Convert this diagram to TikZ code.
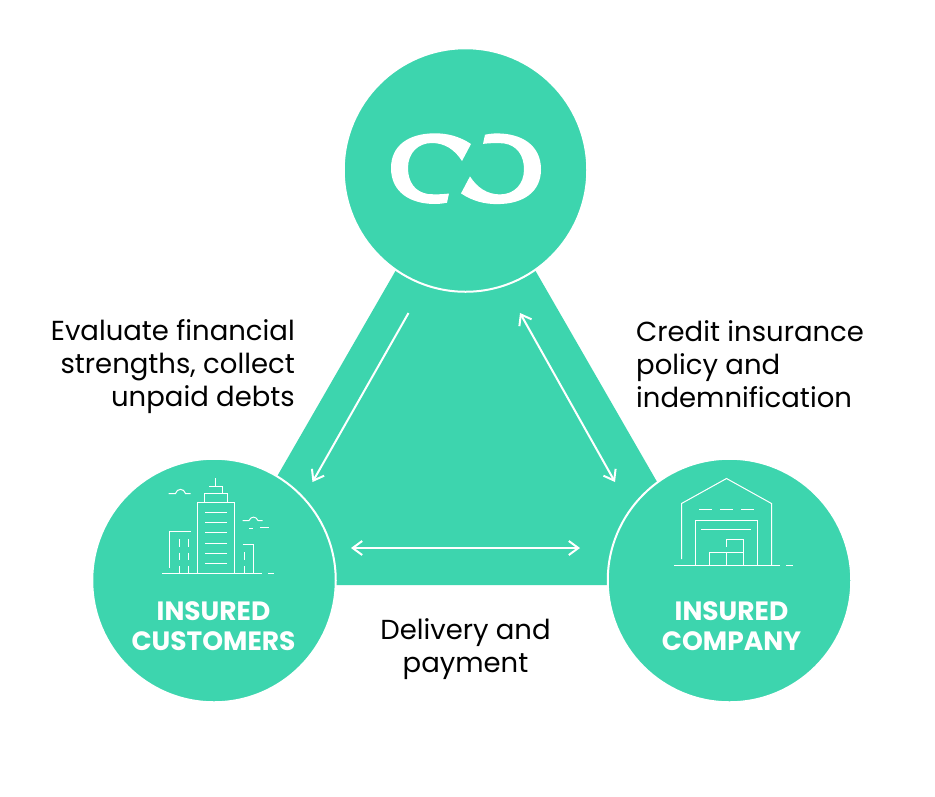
\documentclass[tikz,border=0pt]{standalone}
\usepackage{fontspec}
\setmainfont{Poppins}
\usetikzlibrary{arrows.meta}
\definecolor{tealbg}{HTML}{3DD5AE}
\tikzset{
  x=1pt,y=-1pt,
  disc/.style={circle,fill=tealbg,draw=white,line width=2pt,minimum size=243.5pt,inner sep=0pt},
  flow/.style={white,line width=2pt,-{Straight Barb[length=9.5pt,width=14pt,line width=2pt]}},
  flowboth/.style={white,line width=2pt,{Straight Barb[length=9.5pt,width=14pt,line width=2pt]}-{Straight Barb[length=9.5pt,width=14pt,line width=2pt]}},
  ico/.style={white,line width=1pt},
  captext/.style={font=\fontsize{26.5}{30}\selectfont\bfseries,text=white,align=center},
  say/.style={font=\fontsize{27.5}{33}\selectfont,text=black,inner sep=0pt},
}
\begin{document}
\begin{tikzpicture}
\useasboundingbox (0,0) rectangle (935,796);
\fill[white] (0,0) rectangle (935,796);
\fill[tealbg] (396,270) -- (535,270) -- (660,487) -- (610,585) -- (333,585) -- (275,480) -- cycle;
\node[disc] (top) at (465.5,170) {};
\node[disc] (left) at (214,580.5) {};
\node[disc] (right) at (729.5,580.5) {};
% logo
\def\cshape{(471,144) .. controls (459,136) and (447,133.3) .. (435,133.3)
 .. controls (408,133.3) and (391,146) .. (391,168)
 .. controls (391,192) and (410,204) .. (435,204)
 .. controls (439,204) and (443,203.5) .. (447,202.7) -- (449,193.5)
 .. controls (441,194.5) and (435,194.5) .. (428,194)
 .. controls (415,192) and (408,182) .. (408,168)
 .. controls (408,153) and (418,143) .. (432,143)
 .. controls (445,143) and (455,150) .. (462,161) -- cycle}
\fill[white] \cshape;
\fill[white,rotate around={180:(466,168.7)}] \cshape;
% arrows
\coordinate (a1) at (408.5,313);
\coordinate (a2) at (312.5,482);
\coordinate (b1) at (520,313);
\coordinate (b2) at (615,482);
\coordinate (c1) at (351,548);
\coordinate (c2) at (580,548);
\draw[flow] (a1) -- (a2);
\draw[flowboth] (b1) -- (b2);
\draw[flowboth] (c1) -- (c2);
% building
\draw[ico] (162,573.5) -- (262,573.5) (268,573.5) -- (274,573.5);
\draw[ico] (197.5,573.5) -- (197.5,502.5) -- (234.5,502.5) -- (234.5,573.5);
\draw[ico] (204.5,501.5) -- (204.5,493.5) -- (227.5,493.5) -- (227.5,501.5);
\draw[ico] (209,486.5) -- (222.5,486.5) -- (222.5,493);
\draw[ico] (215.5,478) -- (215.5,486);
\foreach \yy in {512.5,522.5,532.5,543.5,553.5,563.5}
  \draw[ico] (205,\yy) -- (227,\yy);
\draw[ico] (169.5,567.5) -- (169.5,531.5) -- (190.5,531.5);
\foreach \xx in {179.5,188.5}{
  \draw[ico] (\xx,539) -- (\xx,546.5) (\xx,552.5) -- (\xx,560) (\xx,566) -- (\xx,573);}
\draw[ico] (242.5,544.5) -- (253.5,544.5) -- (253.5,573);
\draw[ico] (244.5,552) -- (244.5,560) (244.5,566) -- (244.5,573);
\draw[ico] (168.5,493.5) -- (175.5,493.5) .. controls (177,488) and (184,488) .. (185.5,493.5) -- (190.5,493.5);
\draw[ico] (242.5,520.5) -- (249,520.5) .. controls (251,516) and (256,516) .. (258,520.5) -- (262.5,520.5);
\draw[ico] (249,528.5) -- (253,528.5) (260,527.5) -- (269,527.5);
% warehouse
\draw[ico] (681.5,559) -- (681.5,503.5) -- (726.5,478.5) -- (771.5,503.5) -- (771.5,565);
\draw[ico] (699,509.5) -- (712,509.5) (720,509.5) -- (733,509.5) (741,509.5) -- (754,509.5);
\draw[ico] (695.5,565) -- (695.5,520.5) -- (757.5,520.5) -- (757.5,565);
\draw[ico] (701,529.5) -- (751,529.5);
\draw[ico] (709.5,565) -- (709.5,552.5) -- (743.5,552.5) (726.5,565) -- (726.5,552.5);
\draw[ico] (726.5,546.5) -- (726.5,539.5) -- (743.5,539.5) -- (743.5,565);
\draw[ico] (674,565.5) -- (780,565.5) (786,565.5) -- (793,565.5);
% captions
\node[captext] (capl) at (213.5,626.5) {INSURED\\CUSTOMERS};
\node[captext] (capr) at (731.5,626.5) {INSURED\\COMPANY};
% text
\node[say,align=right,anchor=east] (tl) at (295,367) {Evaluate financial\\strengths, collect\\unpaid debts};
\node[say,align=left,anchor=west] (tr) at (636,364) {Credit insurance\\policy and\\indemnification};
\node[say,align=center] (tb) at (465.5,649) {Delivery and\\payment};
\end{tikzpicture}
\end{document}
